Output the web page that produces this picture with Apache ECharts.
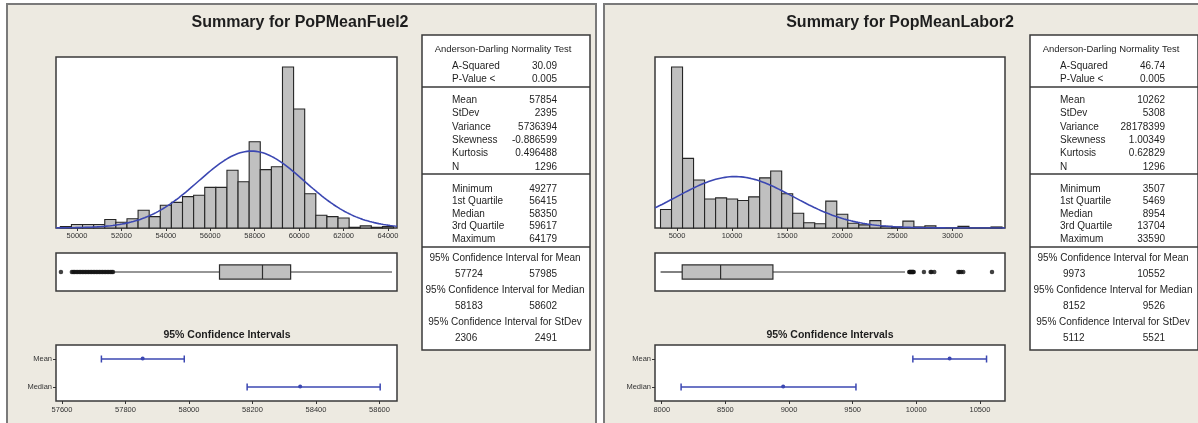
<!DOCTYPE html>
<html>
<head>
<meta charset="utf-8">
<script src="https://cdn.jsdelivr.net/npm/echarts@6/dist/echarts.min.js"></script>
<style>
  html, body { margin: 0; padding: 0; background: #ffffff; }
  #chart { width: 1198px; height: 423px; }
</style>
</head>
<body>
<div id="chart"></div>
<script>
// ---------- PoPMeanFuel2 ----------
const fuelTitle = 'Summary for PoPMeanFuel2';
const fuelBinWidth = 500;
const fuelBinCenters = [49500, 50000, 50500, 51000, 51500, 52000, 52500, 53000, 53500, 54000,
  54500, 55000, 55500, 56000, 56500, 57000, 57500, 58000, 58500, 59000,
  59500, 60000, 60500, 61000, 61500, 62000, 62500, 63000, 63500, 64000];
const fuelCounts = [2, 5, 5, 5, 12, 8, 13, 25, 16, 32,
  36, 44, 46, 57, 57, 81, 65, 121, 82, 86,
  226, 167, 48, 18, 16, 14, 1, 3, 1, 2];
const fuelTicks = [50000, 52000, 54000, 56000, 58000, 60000, 62000, 64000];
const fuelRange = [49055, 64405];
const fuelBox = [51650, 56415, 58350, 59617, 64179];   // whisker low, Q1, median, Q3, whisker high
const fuelOutliers = [49277, 49770, 49830, 49890, 49960, 50030, 50100, 50170, 50240, 50310, 50380,
  50450, 50520, 50590, 50660, 50730, 50800, 50870, 50940, 51010, 51080, 51150, 51220,
  51290, 51360, 51430, 51500, 51570, 51620];
const fuelMeanCI = [57724, 57854, 57985];
const fuelMedianCI = [58183, 58350, 58602];
const fuelCITicks = [57600, 57800, 58000, 58200, 58400, 58600];
const fuelCIRange = [57581, 58655];
const fuelMean = 57854, fuelStDev = 2395, fuelN = 1296;
const fuelAD = ['30.09', '0.005'];
const fuelMoments = ['57854', '2395', '5736394', '-0.886599', '0.496488', '1296'];
const fuelQuartiles = ['49277', '56415', '58350', '59617', '64179'];
const fuelIntervals = [['57724', '57985'], ['58183', '58602'], ['2306', '2491']];

// ---------- PopMeanLabor2 ----------
const laborTitle = 'Summary for PopMeanLabor2';
const laborBinWidth = 1000;
const laborBinCenters = [4000, 5000, 6000, 7000, 8000, 9000, 10000, 11000, 12000, 13000,
  14000, 15000, 16000, 17000, 18000, 19000, 20000, 21000, 22000, 23000,
  24000, 25000, 26000, 27000, 28000, 29000, 30000, 31000, 32000, 33000, 34000];
const laborCounts = [35, 305, 132, 91, 55, 57, 55, 52, 59, 95,
  108, 65, 28, 10, 8, 51, 26, 9, 6, 14,
  3, 2, 13, 2, 4, 0, 0, 3, 0, 0, 2];
const laborTicks = [5000, 10000, 15000, 20000, 25000, 30000];
const laborRange = [3000, 34770];
const laborBox = [3507, 5469, 8954, 13704, 25690];
const laborOutliers = [26080, 26130, 26180, 26230, 26280, 26330, 26380, 26430, 26480,
  27410, 28020, 28100, 28350, 30530, 30650, 30800, 30980, 33590];
const laborMeanCI = [9973, 10262, 10552];
const laborMedianCI = [8152, 8954, 9526];
const laborCITicks = [8000, 8500, 9000, 9500, 10000, 10500];
const laborCIRange = [7947, 10697];
const laborMean = 10262, laborStDev = 5308, laborN = 1296;
const laborAD = ['46.74', '0.005'];
const laborMoments = ['10262', '5308', '28178399', '1.00349', '0.62829', '1296'];
const laborQuartiles = ['3507', '5469', '8954', '13704', '33590'];
const laborIntervals = [['9973', '10552'], ['8152', '9526'], ['5112', '5521']];

const ciRows = ['Mean', 'Median'];

// ---------- styling ----------
const FONT = '"Liberation Sans", Arial, sans-serif';
const PANEL_BG = '#EDEAE1';
const FRAME = '#3a3a3a';
const BAR_FILL = '#c0c0c0';
const BLUE = '#3b47b2';

// fitted normal density scaled to counts per bin, from the table's mean / stdev / N
function normalCurve(range, mean, sd, n, w) {
  const pts = [];
  const steps = 300;
  const k = n * w / (sd * Math.sqrt(2 * Math.PI));
  for (let i = 0; i <= steps; i++) {
    const x = range[0] + (range[1] - range[0]) * i / steps;
    const z = (x - mean) / sd;
    pts.push([x, k * Math.exp(-0.5 * z * z)]);
  }
  return pts;
}

function histData(centers, counts, w) {
  return centers.map((c, i) => [c - w / 2, c + w / 2, counts[i]]);
}

function renderBar(params, api) {
  const p0 = api.coord([api.value(0), 0]);
  const p1 = api.coord([api.value(1), api.value(2)]);
  return {
    type: 'rect',
    shape: { x: p0[0], y: p1[1], width: p1[0] - p0[0], height: p0[1] - p1[1] },
    style: { fill: BAR_FILL, stroke: '#262626', lineWidth: 1.1 }
  };
}

function renderBox(params, api) {
  const y = api.coord([api.value(0), 0])[1];
  const band = api.size([0, 1])[1];
  const h = band * 0.37;
  const xs = [0, 1, 2, 3, 4].map(i => api.coord([api.value(i), 0])[0]);
  const line = (x1, x2, y1, y2) => ({
    type: 'line', shape: { x1, y1, x2, y2 }, style: { stroke: '#2e2e2e', lineWidth: 1.2 }
  });
  return {
    type: 'group',
    children: [
      line(xs[0], xs[1], y, y),
      line(xs[3], xs[4], y, y),
      { type: 'rect', shape: { x: xs[1], y: y - h / 2, width: xs[3] - xs[1], height: h },
        style: { fill: BAR_FILL, stroke: '#2e2e2e', lineWidth: 1.2 } },
      line(xs[2], xs[2], y - h / 2, y + h / 2)
    ]
  };
}

function renderCI(params, api) {
  const row = api.value(3);
  const a = api.coord([api.value(0), row]);
  const m = api.coord([api.value(1), row]);
  const b = api.coord([api.value(2), row]);
  const cap = 3.5;
  const st = { stroke: BLUE, lineWidth: 1.5 };
  return {
    type: 'group',
    children: [
      { type: 'line', shape: { x1: a[0], y1: a[1], x2: b[0], y2: b[1] }, style: st },
      { type: 'line', shape: { x1: a[0], y1: a[1] - cap, x2: a[0], y2: a[1] + cap }, style: st },
      { type: 'line', shape: { x1: b[0], y1: b[1] - cap, x2: b[0], y2: b[1] + cap }, style: st },
      { type: 'circle', shape: { cx: m[0], cy: m[1] - 0.5, r: 2 }, style: { fill: BLUE } }
    ]
  };
}

function txt(s, x, y, align, size, weight) {
  return {
    type: 'text', z: 100, x: x, y: y,
    style: {
      text: s, fill: '#1e1e1e', fontSize: size || 10, fontFamily: FONT,
      fontWeight: weight || 'normal',
      align: align, textAlign: align, verticalAlign: 'middle', textVerticalAlign: 'middle'
    }
  };
}

// statistics side table
function statsTable(x0, ad, moments, quarts, intervals) {
  const W = 168, top = 35, bottom = 350;
  const labX = x0 + 30, valX = x0 + 135;
  const els = [];
  els.push({ type: 'rect', z: 99, shape: { x: x0, y: top, width: W, height: bottom - top },
    style: { fill: '#fff', stroke: FRAME, lineWidth: 1.5 } });
  [87, 174, 247].forEach(y => els.push({ type: 'line', z: 99,
    shape: { x1: x0, y1: y, x2: x0 + W, y2: y }, style: { stroke: FRAME, lineWidth: 1.5 } }));
  els.push(txt('Anderson-Darling Normality Test', x0 + 81, 49, 'center', 9.5));
  const adLab = ['A-Squared', 'P-Value <'];
  [66, 79].forEach((y, i) => { els.push(txt(adLab[i], labX, y, 'left')); els.push(txt(ad[i], valX, y, 'right')); });
  const momLab = ['Mean', 'StDev', 'Variance', 'Skewness', 'Kurtosis', 'N'];
  momLab.forEach((l, i) => {
    const y = 100 + i * 13.4;
    els.push(txt(l, labX, y, 'left')); els.push(txt(moments[i], valX, y, 'right'));
  });
  const qLab = ['Minimum', '1st Quartile', 'Median', '3rd Quartile', 'Maximum'];
  qLab.forEach((l, i) => {
    const y = 189 + i * 12.5;
    els.push(txt(l, labX, y, 'left')); els.push(txt(quarts[i], valX, y, 'right'));
  });
  const ciLab = ['95% Confidence Interval for Mean', '95% Confidence Interval for Median',
    '95% Confidence Interval for StDev'];
  ciLab.forEach((l, i) => {
    const y = 258 + i * 32.3;
    els.push(txt(l, x0 + 83, y, 'center'));
    els.push(txt(intervals[i][0], x0 + 33, y + 16, 'left'));
    els.push(txt(intervals[i][1], valX, y + 16, 'right'));
  });
  return els;
}

const tickStyle = { show: true, length: 3, lineStyle: { color: '#333', width: 1 } };
const labStyle = { color: '#333', fontSize: 7.5, fontFamily: FONT };

function grid(left, top, width, height) {
  return { left, top, width, height, show: true, backgroundColor: '#fff',
    borderColor: FRAME, borderWidth: 1.5, containLabel: false };
}

function valueAxis(gi, range, ticks, margin) {
  return {
    type: 'value', gridIndex: gi, min: range[0], max: range[1],
    axisLine: { show: false }, splitLine: { show: false },
    axisTick: Object.assign({ customValues: ticks }, tickStyle),
    axisLabel: Object.assign({ customValues: ticks, margin: margin, formatter: v => String(v) }, labStyle)
  };
}

const option = {
  backgroundColor: '#ffffff',
  animation: false,
  grid: [
    grid(56, 57, 341, 171), grid(56, 253, 341, 38), grid(56, 345, 341, 56),
    grid(655, 57, 350, 171), grid(655, 253, 350, 38), grid(655, 345, 350, 56)
  ],
  xAxis: [
    valueAxis(0, fuelRange, fuelTicks, 4),
    { type: 'value', gridIndex: 1, min: fuelRange[0], max: fuelRange[1], show: false },
    valueAxis(2, fuelCIRange, fuelCITicks, 5),
    valueAxis(3, laborRange, laborTicks, 4),
    { type: 'value', gridIndex: 4, min: laborRange[0], max: laborRange[1], show: false },
    valueAxis(5, laborCIRange, laborCITicks, 5)
  ],
  yAxis: [
    { type: 'value', gridIndex: 0, min: 0, max: 240, show: false },
    { type: 'category', gridIndex: 1, data: ['box'], show: false },
    { type: 'category', gridIndex: 2, data: ciRows, inverse: true,
      axisLine: { show: false }, axisTick: Object.assign({ alignWithLabel: true }, tickStyle),
      axisLabel: Object.assign({ margin: 4, fontSize: 8 }, labStyle) },
    { type: 'value', gridIndex: 3, min: 0, max: 324, show: false },
    { type: 'category', gridIndex: 4, data: ['box'], show: false },
    { type: 'category', gridIndex: 5, data: ciRows, inverse: true,
      axisLine: { show: false }, axisTick: Object.assign({ alignWithLabel: true }, tickStyle),
      axisLabel: Object.assign({ margin: 4, fontSize: 8 }, labStyle) }
  ],
  series: [
    { type: 'custom', xAxisIndex: 0, yAxisIndex: 0, renderItem: renderBar,
      encode: { x: [0, 1], y: 2 }, data: histData(fuelBinCenters, fuelCounts, fuelBinWidth) },
    { type: 'line', xAxisIndex: 0, yAxisIndex: 0, showSymbol: false, smooth: false, z: 5,
      lineStyle: { color: BLUE, width: 1.6 }, data: normalCurve(fuelRange, fuelMean, fuelStDev, fuelN, fuelBinWidth) },
    { type: 'custom', xAxisIndex: 1, yAxisIndex: 1, renderItem: renderBox,
      encode: { x: [0, 1, 2, 3, 4], y: 5 }, data: [fuelBox.concat([0])] },
    { type: 'scatter', xAxisIndex: 1, yAxisIndex: 1, symbolSize: 4.5,
      itemStyle: { color: '#111' }, data: fuelOutliers.map(v => [v, 0]) },
    { type: 'custom', xAxisIndex: 2, yAxisIndex: 2, renderItem: renderCI,
      encode: { x: [0, 1, 2], y: 3 }, data: [fuelMeanCI.concat([0]), fuelMedianCI.concat([1])] },

    { type: 'custom', xAxisIndex: 3, yAxisIndex: 3, renderItem: renderBar,
      encode: { x: [0, 1], y: 2 }, data: histData(laborBinCenters, laborCounts, laborBinWidth) },
    { type: 'line', xAxisIndex: 3, yAxisIndex: 3, showSymbol: false, smooth: false, z: 5,
      lineStyle: { color: BLUE, width: 1.6 }, data: normalCurve(laborRange, laborMean, laborStDev, laborN, laborBinWidth) },
    { type: 'custom', xAxisIndex: 4, yAxisIndex: 4, renderItem: renderBox,
      encode: { x: [0, 1, 2, 3, 4], y: 5 }, data: [laborBox.concat([0])] },
    { type: 'scatter', xAxisIndex: 4, yAxisIndex: 4, symbolSize: 4.5,
      itemStyle: { color: '#111' }, data: laborOutliers.map(v => [v, 0]) },
    { type: 'custom', xAxisIndex: 5, yAxisIndex: 5, renderItem: renderCI,
      encode: { x: [0, 1, 2], y: 3 }, data: [laborMeanCI.concat([0]), laborMedianCI.concat([1])] }
  ],
  graphic: [
    { type: 'rect', z: -10, shape: { x: 7, y: 4, width: 589, height: 426 },
      style: { fill: PANEL_BG, stroke: '#7a7a7a', lineWidth: 2 } },
    { type: 'rect', z: -10, shape: { x: 604, y: 4, width: 600, height: 426 },
      style: { fill: PANEL_BG, stroke: '#7a7a7a', lineWidth: 2 } },
    txt(fuelTitle, 300, 23, 'center', 16, 'bold'),
    txt(laborTitle, 900, 23, 'center', 16, 'bold'),
    txt('95% Confidence Intervals', 227, 335, 'center', 10.5, 'bold'),
    txt('95% Confidence Intervals', 830, 335, 'center', 10.5, 'bold')
  ].concat(statsTable(422, fuelAD, fuelMoments, fuelQuartiles, fuelIntervals))
   .concat(statsTable(1030, laborAD, laborMoments, laborQuartiles, laborIntervals))
};

const chart = echarts.init(document.getElementById('chart'), null, { renderer: 'canvas' });
chart.setOption(option);
</script>
</body>
</html>
